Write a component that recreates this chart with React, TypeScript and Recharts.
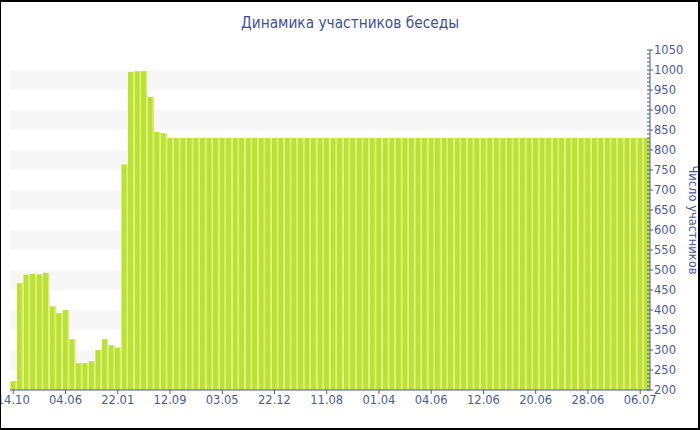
import React from 'react';
import { BarChart, Bar, XAxis, YAxis, CartesianGrid } from 'recharts';

const dates: string[] = [
  '14.10', '19.11', '14.12', '09.01', '03.02', '01.03', '27.03', '03.05',
  '04.06', '28.06', '22.07', '19.08', '13.09', '08.10', '02.11', '27.11',
  '22.01', '15.02', '12.03', '05.04', '30.04', '25.05', '19.06', '14.07',
  '12.09', '20.10', '27.11', '03.01', '09.02', '18.03', '24.04', '28.04',
  '03.05', '11.06', '19.07', '25.08', '02.10', '09.11', '16.11', '10.12',
  '22.12', '28.01', '06.03', '12.04', '19.05', '25.06', '02.07', '30.07',
  '11.08', '17.09', '25.10', '01.12', '08.01', '14.02', '22.03', '28.03',
  '01.04', '09.04', '17.04', '25.04', '03.05', '11.05', '19.05', '27.05',
  '04.06', '05.06', '06.06', '07.06', '08.06', '09.06', '10.06', '11.06',
  '12.06', '13.06', '14.06', '15.06', '16.06', '17.06', '18.06', '19.06',
  '20.06', '21.06', '22.06', '23.06', '24.06', '25.06', '26.06', '27.06',
  '28.06', '29.06', '30.06', '01.07', '02.07', '03.07', '04.07', '05.07',
  '06.07', '07.07',
];

const members: number[] = [
  222, 467, 488, 490, 489, 493, 409, 392,
  400, 327, 267, 267, 272, 300, 327, 312,
  306, 764, 995, 997, 997, 933, 845, 842,
  830, 830, 830, 830, 830, 830, 830, 830,
  830, 830, 830, 830, 830, 830, 830, 830,
  830, 830, 830, 830, 830, 830, 830, 830,
  830, 830, 830, 830, 830, 830, 830, 830,
  830, 830, 830, 830, 830, 830, 830, 830,
  830, 830, 830, 830, 830, 830, 830, 830,
  830, 830, 830, 830, 830, 830, 830, 830,
  830, 830, 830, 830, 830, 830, 830, 830,
  830, 830, 830, 830, 830, 830, 830, 830,
  830, 830,
];

const majorTicks: number[] = [
  200, 250, 300, 350, 400, 450, 500, 550, 600, 650, 700, 750, 800, 850, 900, 950, 1000, 1050,
];
const Y_MIN = 200;
const Y_MAX = 1050;
const minorStep = 10;
const allTicks: number[] = [];
for (let v = Y_MIN; v <= Y_MAX; v += minorStep) allTicks.push(v);

const TITLE = 'Динамика участников беседы';
const Y_LABEL = 'Число участников';

const data = dates.map((d, i) => ({ date: d, value: members[i] }));

const AXIS_COLOR = '#4a5a9e';
const TEXT_COLOR = '#4a5a9a';
const BAR_COLOR = '#bde12d';
const BAR_LIGHT = '#d8ee8a';
const FONT = '"DejaVu Sans", Verdana, sans-serif';

const bandCoords = (args: any): number[] => {
  const s = args && args.yAxis && args.yAxis.scale;
  if (typeof s === 'function') return majorTicks.map((v) => s(v));
  if (s && typeof s.map === 'function') return majorTicks.map((v) => s.map(v));
  const off = args.offset || {};
  const top = off.top ?? 50;
  const h = off.height ?? 340;
  return majorTicks.map((v) => top + ((Y_MAX - v) / (Y_MAX - Y_MIN)) * h);
};

const YTick = (props: any) => {
  const { x, y, payload } = props;
  const v = payload.value as number;
  const major = v % 50 === 0;
  return (
    <g>
      {major ? (
        <line x1={x - 7} x2={x - 1} y1={y} y2={y} stroke={AXIS_COLOR} strokeWidth={1} />
      ) : (
        <line x1={x - 7} x2={x - 4} y1={y} y2={y} stroke={AXIS_COLOR} strokeWidth={1} />
      )}
      {major && (
        <text x={x} y={y} dy="0.35em" textAnchor="start" fill={TEXT_COLOR} fontSize={11.5} fontFamily={FONT}>
          {v}
        </text>
      )}
    </g>
  );
};

const BarShape = (props: any) => {
  const { x, y, width, height } = props;
  if (!height || height <= 0) return <g />;
  return (
    <g>
      <rect x={x} y={y} width={width} height={height} fill={BAR_COLOR} />
      <rect x={x + width - 1.2} y={y} width={1.2} height={height} fill={BAR_LIGHT} />
    </g>
  );
};

export default function App() {
  return (
    <div style={{ position: 'absolute', left: 0, top: 0, width: 700, height: 430, background: '#fff' }}>
      <BarChart
        width={700}
        height={430}
        data={data}
        margin={{ top: 50, right: 0, left: 10, bottom: 10 }}
        barCategoryGap={0.5}
      >
        <CartesianGrid
          vertical={false}
          stroke="transparent"
          horizontalFill={['#ffffff', '#f7f7f7']}
          horizontalCoordinatesGenerator={bandCoords}
        />
        <XAxis
          dataKey="date"
          interval={7}
          height={30}
          tickSize={4}
          tickMargin={2}
          axisLine={{ stroke: AXIS_COLOR }}
          tickLine={{ stroke: AXIS_COLOR }}
          tick={{ fill: TEXT_COLOR, fontSize: 11.5, fontFamily: FONT }}
        />
        <YAxis
          orientation="right"
          width={50}
          domain={[Y_MIN, Y_MAX]}
          ticks={allTicks}
          interval={0}
          allowDataOverflow
          tickSize={0}
          tickMargin={4}
          tickLine={false}
          axisLine={{ stroke: AXIS_COLOR }}
          tick={<YTick />}
          label={{
            value: Y_LABEL,
            angle: 90,
            position: 'center',
            dx: 18,
            fill: TEXT_COLOR,
            fontSize: 11.5,
            fontFamily: FONT,
          }}
        />
        <Bar dataKey="value" isAnimationActive={false} shape={<BarShape />} />
      </BarChart>
      <svg width={700} height={430} style={{ position: 'absolute', left: 0, top: 0, pointerEvents: 'none' }}>
        <text
          x={350}
          y={28}
          textAnchor="middle"
          fontSize={16}
          fontFamily='"DejaVu Sans Condensed", "DejaVu Sans", sans-serif'
          fill="#3d4f9c"
          textLength={218}
          lengthAdjust="spacingAndGlyphs"
        >
          {TITLE}
        </text>
      </svg>
      <div
        style={{
          position: 'absolute',
          left: 0,
          top: 0,
          width: 700,
          height: 430,
          boxSizing: 'border-box',
          borderTop: '2px solid #000',
          borderLeft: '1px solid #000',
          borderRight: '2px solid #000',
          borderBottom: '2px solid #000',
          pointerEvents: 'none',
        }}
      />
    </div>
  );
}
